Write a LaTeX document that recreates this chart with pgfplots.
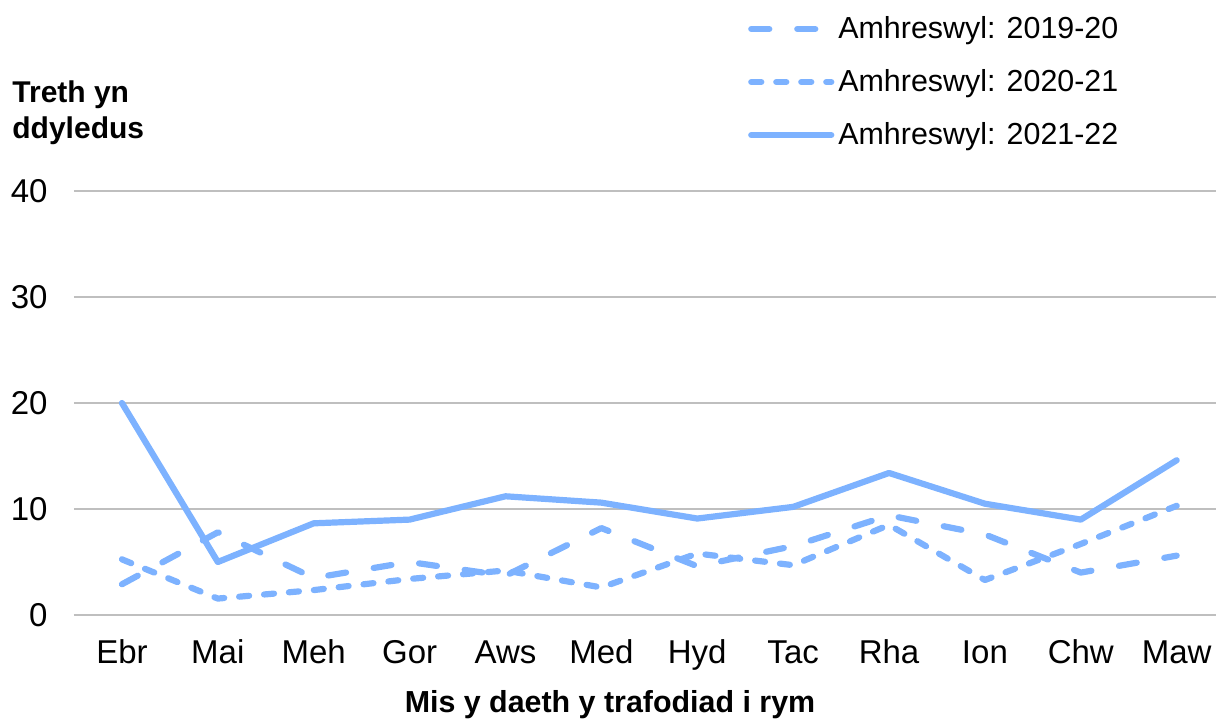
\documentclass[border=0pt]{standalone}
\usepackage{pgfplots}
\pgfplotsset{compat=1.18}
\usepackage{fontspec}
\setmainfont{Liberation Sans}
\definecolor{ser}{RGB}{125,178,255}
\definecolor{gridc}{RGB}{191,191,191}
\begin{document}
\begin{tikzpicture}
\useasboundingbox (-37pt,-52pt) rectangle (571pt,307.5pt);
\begin{axis}[
  at={(0,0)}, anchor=south west,
  scale only axis, width=571pt, height=212pt,
  xmin=-0.5, xmax=11.41, ymin=0, ymax=40,
  axis x line*=bottom, axis y line*=left,
  axis line style={-},
  x axis line style={draw=gridc, line width=1pt},
  y axis line style={draw=none},
  ymajorgrids, grid style={gridc, line width=1pt},
  ytick={0,10,20,30,40},
  ytick style={draw=none},
  xtick={0,...,11},
  xticklabels={Ebr,Mai,Meh,Gor,Aws,Med,Hyd,Tac,Rha,Ion,Chw,Maw},
  major x tick style={draw=none},
  extra x ticks={-0.5,0.5,...,11.5},
  extra x tick labels={},
  extra x tick style={major tick length=6pt, tick style={draw=gridc, line width=1pt}, tick align=outside},
  tick label style={font=\fontsize{16.5}{20}\selectfont},
  /pgf/number format/assume math mode=true,
  yticklabel style={anchor=east, inner sep=0pt, xshift=-13pt},
  xticklabel style={anchor=base, inner sep=0pt, yshift=-24pt},
  legend cell align=left,
  legend style={draw=none, fill=none, at={(0.59,1.422)}, anchor=north west,
    font=\fontsize{15.2}{18}\selectfont, row sep=10pt, inner sep=0pt,
    /tikz/every even column/.append style={column sep=2pt}},
  legend image code/.code={\draw[#1, line cap=round] (0pt,0pt) -- (40pt,0pt);},
]
\addplot[ser, line width=3.1pt, line cap=round, line join=round, dash pattern=on 9pt off 14pt] coordinates {
(0,2.9) (1,7.8) (2,3.5) (3,5.0) (4,3.7) (5,8.2) (6,4.6) (7,6.5) (8,9.4) (9,7.6) (10,4.0) (11,5.6)};
\addlegendentry{Amhreswyl: 2019-20}
\addplot[ser, line width=3.1pt, line cap=round, line join=round, dash pattern=on 5pt off 7.5pt] coordinates {
(0,5.25) (1,1.55) (2,2.35) (3,3.4) (4,4.2) (5,2.6) (6,5.8) (7,4.7) (8,8.5) (9,3.3) (10,6.7) (11,10.3)};
\addlegendentry{Amhreswyl: 2020-21}
\addplot[ser, line width=3.1pt, line cap=round, line join=round] coordinates {
(0,20.0) (1,5.0) (2,8.65) (3,9.0) (4,11.2) (5,10.6) (6,9.1) (7,10.2) (8,13.4) (9,10.5) (10,9.0) (11,14.6)};
\addlegendentry{Amhreswyl: 2021-22}
\end{axis}
\node[anchor=base west, align=left, inner sep=0pt, font=\bfseries\fontsize{15}{18}\selectfont] at (-31pt,238pt) {Treth yn\\ddyledus};
\node[anchor=base, inner sep=0pt, font=\bfseries\fontsize{15.2}{18}\selectfont] at (268pt,-48.5pt) {Mis y daeth y trafodiad i rym};
\end{tikzpicture}
\end{document}
